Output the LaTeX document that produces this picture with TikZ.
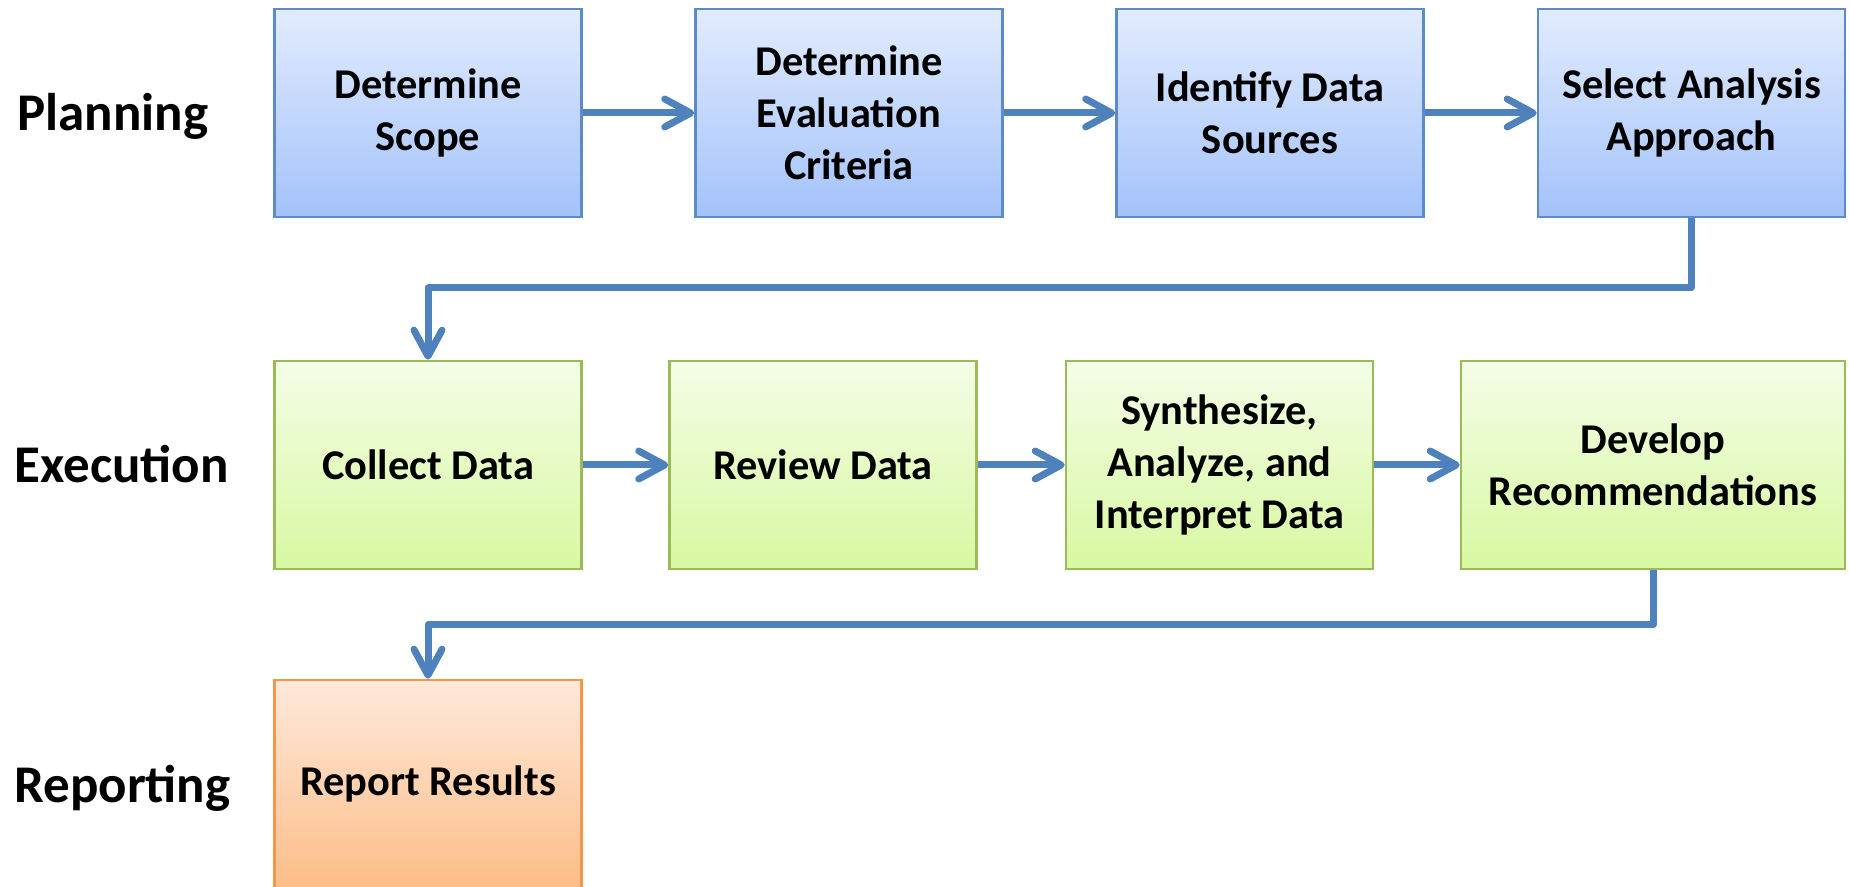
\documentclass[tikz,border=0pt]{standalone}
\usepackage{fontspec}
\setmainfont{Carlito}
\usetikzlibrary{arrows.meta}
\definecolor{lineblue}{HTML}{4F81BD}
\definecolor{planborder}{HTML}{5B8BCB}
\definecolor{plantop}{HTML}{E2ECFE}
\definecolor{planbot}{HTML}{A3C2FA}
\definecolor{execborder}{HTML}{9BBB59}
\definecolor{exectop}{HTML}{F4FDE6}
\definecolor{execbot}{HTML}{D8F8A2}
\definecolor{repborder}{HTML}{F79646}
\definecolor{reptop}{HTML}{FEE9DA}
\definecolor{repbot}{HTML}{FDBD88}
\begin{document}
\begin{tikzpicture}[x=0.5pt,y=-0.5pt,
  box/.style={draw, line width=1.3pt, minimum width=153.5pt, minimum height=104pt,
    align=center, inner sep=2pt,
    font=\fontsize{21.2}{26}\selectfont\bfseries},
  planbox/.style={box, draw=planborder, top color=plantop, bottom color=planbot},
  execbox/.style={box, draw=execborder, top color=exectop, bottom color=execbot},
  repbox/.style={box, draw=repborder, top color=reptop, bottom color=repbot},
  flow/.style={draw=lineblue, line width=3.5pt, line join=round,
    -{Straight Barb[length=13pt,width=14pt,line cap=round,line join=round]}},
  phase/.style={anchor=base west, inner sep=0pt,
    font=\fontsize{26.5}{31}\selectfont\bfseries}]
\useasboundingbox (0,0) rectangle (1849,887);
\clip (0,0) rectangle (1849,887);

% phase labels
\node[phase] (lplan) at (17,131) {Planning};
\node[phase] (lexec) at (14,483) {Execution};
\node[phase] (lrep) at (14,802) {Reporting};

% planning row
\node[planbox] (b1) at (428,113) {Determine\\Scope};
\node[planbox] (b2) at (849,113) {Determine\\Evaluation\\Criteria};
\node[planbox] (b3) at (1270,113) {Identify Data\\Sources};
\node[planbox] (b4) at (1691.5,113) {Select Analysis\\Approach};

% execution row
\node[execbox] (b5) at (428,465) {Collect Data};
\node[execbox] (b6) at (823,465) {Review Data};
\node[execbox] (b7) at (1219.5,465) {Synthesize,\\Analyze, and\\Interpret Data};
\node[execbox, minimum width=192pt] (b8) at (1653,465) {Develop\\Recommendations};

% reporting row
\node[repbox] (b9) at (428,784) {Report Results};

% connectors
\draw[flow] (b1.east) -- (b2.west);
\draw[flow] (b2.east) -- (b3.west);
\draw[flow] (b3.east) -- (b4.west);
\coordinate (t1) at (428,288);
\draw[flow] (b4.south) |- (t1) -- (b5.north);
\draw[flow] (b5.east) -- (b6.west);
\draw[flow] (b6.east) -- (b7.west);
\draw[flow] (b7.east) -- (b8.west);
\coordinate (t2) at (428,625);
\draw[flow] (b8.south) |- (t2) -- (b9.north);
\end{tikzpicture}
\end{document}
